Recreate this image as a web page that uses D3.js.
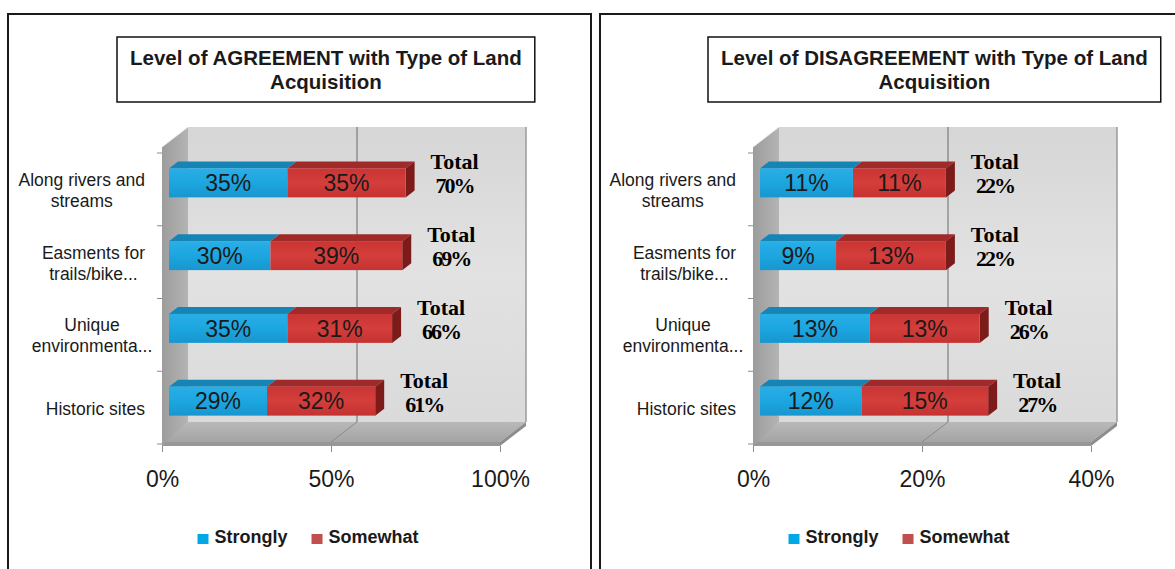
<!DOCTYPE html>
<html>
<head>
<meta charset="utf-8">
<script src="https://cdn.jsdelivr.net/npm/d3@7"></script>
<style>
  html, body { margin: 0; padding: 0; background: #fff; }
  svg { display: block; }
  .sans { font-family: "Liberation Sans", Arial, sans-serif; }
  .serif { font-family: "Liberation Serif", "Times New Roman", serif; }
</style>
</head>
<body>
<svg id="chart" width="1175" height="569"></svg>
<script>
// ---- data ----
const categoryLines = [
  ["Along rivers and", "streams"],
  ["Easments for", "trails/bike..."],
  ["Unique", "environmenta..."],
  ["Historic sites"]
];
const seriesNames = ["Strongly", "Somewhat"];

const agreeTitle = ["Level of AGREEMENT with Type of Land", "Acquisition"];
const agreeStrongly = [35, 30, 35, 29];
const agreeSomewhat = [35, 39, 31, 32];
const agreeTotal = [70, 69, 66, 61];
const agreeTicks = [0, 50, 100];

const disagreeTitle = ["Level of DISAGREEMENT with Type of Land", "Acquisition"];
const disagreeStrongly = [11, 9, 13, 12];
const disagreeSomewhat = [11, 13, 13, 15];
const disagreeTotal = [22, 22, 26, 27];
const disagreeTicks = [0, 20, 40];

// ---- style ----
const C = {
  blue: "#1ba3dd", blueTop: "#1784b6", blueLegend: "#00a8e8",
  red: "#d13a38", redTop: "#a02a29", redEnd: "#7d1b1b", redLegend: "#c0504d",
  text: "#1a1a1a"
};

const svg = d3.select("#chart");
const defs = svg.append("defs");

function vGrad(id, stops) {
  const g = defs.append("linearGradient").attr("id", id)
    .attr("x1", 0).attr("y1", 0).attr("x2", 0).attr("y2", 1);
  stops.forEach(([o, c]) => g.append("stop").attr("offset", o).attr("stop-color", c));
}
function hGrad(id, stops) {
  const g = defs.append("linearGradient").attr("id", id)
    .attr("x1", 0).attr("y1", 0).attr("x2", 1).attr("y2", 0);
  stops.forEach(([o, c]) => g.append("stop").attr("offset", o).attr("stop-color", c));
}
vGrad("wallGrad", [[0, "#d6d6d6"], [0.5, "#e2e2e2"], [1, "#dadada"]]);
hGrad("sideGrad", [[0, "#9c9c9c"], [1, "#b4b4b4"]]);
vGrad("floorGrad", [[0, "#b9b9b9"], [1, "#a4a4a4"]]);
vGrad("blueGrad", [[0, "#2aaee6"], [0.5, "#1ca6e0"], [1, "#1896cf"]]);
vGrad("redGrad", [[0, "#c93534"], [0.5, "#d43e3b"], [1, "#c43231"]]);

// panel frames
svg.append("rect").attr("x", 8).attr("y", 14).attr("width", 583).attr("height", 600)
  .attr("fill", "none").attr("stroke", "#1a1a1a").attr("stroke-width", 2);
svg.append("rect").attr("x", 600).attr("y", 14).attr("width", 600).attr("height", 600)
  .attr("fill", "none").attr("stroke", "#1a1a1a").attr("stroke-width", 2);

const depth = { x: 26, y: -20 };      // wall depth
const barOff = { x: 7, y: -6.5 };     // bar front face offset inside the box
const barDepth = { x: 9, y: -7 };     // bar thickness into the page
const barH = 29;

function drawPanel(cfg) {
  const g = svg.append("g");
  const x0 = cfg.axisX;
  const x = d3.scaleLinear().domain([0, cfg.ticks[cfg.ticks.length - 1]]).range([x0, x0 + 338]);
  const y = d3.scaleBand().domain(d3.range(categoryLines.length)).range([153, 444]);
  const floorY = 442, wallTop = 147;
  const bx0 = x0 + depth.x, bx1 = x(cfg.ticks[cfg.ticks.length - 1]) + depth.x;
  const bTop = wallTop + depth.y, bBot = floorY + depth.y;

  // title
  const title = g.append("g");
  const tBox = title.append("rect").attr("fill", "#fff").attr("stroke", "#111").attr("stroke-width", 1.5);
  const tText = title.selectAll("text").data(cfg.title).join("text")
    .attr("class", "sans").attr("font-size", 20.5).attr("font-weight", "bold")
    .attr("fill", C.text).attr("text-anchor", "middle")
    .attr("y", (d, i) => 65 + i * 24).text(d => d);
  const tw = d3.max(tText.nodes(), n => n.getComputedTextLength());
  const boxX = x0 - 45, boxW = tw + 26;
  tBox.attr("x", boxX).attr("y", 37).attr("width", boxW).attr("height", 65);
  tText.attr("x", boxX + boxW / 2);

  // back wall
  g.append("rect").attr("x", bx0).attr("y", bTop).attr("width", bx1 - bx0).attr("height", bBot - bTop)
    .attr("fill", "url(#wallGrad)");
  g.append("line").attr("x1", bx1).attr("x2", bx1).attr("y1", bTop).attr("y2", bBot)
    .attr("stroke", "#9a9a9a").attr("stroke-width", 1.5);

  // floor
  const xMax = x.domain()[1];
  g.append("polygon")
    .attr("points", [[x0, floorY], [x(xMax), floorY], [x(xMax) + depth.x, bBot], [bx0, bBot]].join(" "))
    .attr("fill", "url(#floorGrad)");
  g.append("rect").attr("x", x0).attr("y", floorY).attr("width", 338).attr("height", 4).attr("fill", "#979797");
  g.append("polygon")
    .attr("points", [[x(xMax), floorY], [x(xMax) + depth.x, bBot], [x(xMax) + depth.x, bBot + 4], [x(xMax), floorY + 4]].join(" "))
    .attr("fill", "#8d8d8d");

  // gridlines on back wall and floor
  cfg.ticks.slice(1, -1).forEach(t => {
    g.append("line").attr("x1", x(t) + depth.x).attr("x2", x(t) + depth.x)
      .attr("y1", bTop).attr("y2", bBot).attr("stroke", "#6a6a6a").attr("stroke-width", 1);
    g.append("line").attr("x1", x(t) + depth.x).attr("y1", bBot)
      .attr("x2", x(t)).attr("y2", floorY).attr("stroke", "#8a8a8a").attr("stroke-width", 1);
  });

  // side wall
  g.append("polygon")
    .attr("points", [[x0, wallTop], [bx0, bTop], [bx0, bBot], [x0, floorY + 4]].join(" "))
    .attr("fill", "url(#sideGrad)");
  g.append("line").attr("x1", x0).attr("y1", wallTop).attr("x2", bx0).attr("y2", bTop)
    .attr("stroke", "#eeeeee").attr("stroke-width", 1);

  // category tick marks at band edges
  const edges = y.domain().map(i => y(i)).concat([y.range()[1]]);
  g.selectAll(".ctick").data(edges).join("line")
    .attr("x1", x0 - 5).attr("x2", x0).attr("y1", d => d).attr("y2", d => d)
    .attr("stroke", "#8c8c8c").attr("stroke-width", 1);

  // value axis
  const axis = d3.axisBottom(x).tickValues(cfg.ticks).tickFormat(d => d + "%")
    .tickSize(6).tickPadding(19);
  const ax = g.append("g").attr("transform", `translate(0,${floorY + 4})`).call(axis);
  ax.select(".domain").remove();
  ax.selectAll(".tick line").attr("stroke", "#8c8c8c");
  ax.selectAll(".tick text").attr("class", "sans").attr("font-size", 23).attr("fill", C.text);

  // bars
  const stacks = cfg.strongly.map((s, i) => [
    { key: 0, a: 0, b: s, i },
    { key: 1, a: s, b: s + cfg.somewhat[i], i }
  ]);
  stacks.forEach(segs => {
    segs.forEach(seg => {
      const c = y(seg.i) + y.bandwidth() / 2;
      const top = c + barOff.y - barH / 2, bot = top + barH;
      const xa = x(seg.a) + barOff.x, xb = x(seg.b) + barOff.x;
      g.append("polygon")
        .attr("points", [[xa, top], [xb, top], [xb + barDepth.x, top + barDepth.y], [xa + barDepth.x, top + barDepth.y]].join(" "))
        .attr("fill", seg.key === 0 ? C.blueTop : C.redTop);
      if (seg.key === 1) {
        g.append("polygon")
          .attr("points", [[xb, top], [xb + barDepth.x, top + barDepth.y], [xb + barDepth.x, bot + barDepth.y], [xb, bot]].join(" "))
          .attr("fill", C.redEnd);
      }
      g.append("rect").attr("x", xa).attr("y", top).attr("width", xb - xa).attr("height", barH)
        .attr("fill", seg.key === 0 ? "url(#blueGrad)" : "url(#redGrad)");
      g.append("text").attr("class", "sans").attr("font-size", 23).attr("fill", C.text)
        .attr("text-anchor", "middle").attr("x", (xa + xb) / 2).attr("y", c + barOff.y + 8.2)
        .text(seg.b - seg.a + "%");
    });
  });

  // totals
  cfg.totals.forEach((t, i) => {
    const c = y(i) + y.bandwidth() / 2;
    const tx = x(t) + 56;
    const tg = g.append("g").attr("class", "serif").attr("font-weight", "bold")
      .attr("font-size", 22).attr("fill", "#000").attr("text-anchor", "middle");
    tg.append("text").attr("x", tx).attr("y", c - 20).text("Total");
    tg.append("text").attr("x", tx).attr("y", c + 4).attr("letter-spacing", -2).text(t + "%");
  });

  // category labels
  categoryLines.forEach((lines, i) => {
    const c = y(i) + y.bandwidth() / 2;
    const lg = g.append("g").attr("class", "sans").attr("font-size", 17.5).attr("fill", C.text)
      .attr("text-anchor", "middle");
    const texts = lines.map((ln, k) => lg.append("text")
      .attr("y", c + 7 - (lines.length - 1) * 10.5 + k * 21).text(ln));
    const widths = texts.map((t, k) => {
      let w = t.node().getComputedTextLength();
      if (lines[k].endsWith("...")) {
        const probe = lg.append("text").text("...");
        w -= probe.node().getComputedTextLength();
        probe.remove();
      }
      return w;
    });
    const blockW = d3.max(widths);
    const cx = x0 - 17 - blockW / 2;
    texts.forEach(t => t.attr("x", cx));
  });

  // legend
  const leg = g.append("g").attr("class", "sans").attr("font-size", 18).attr("font-weight", "bold").attr("fill", C.text);
  let lx = x0 + 35.5;
  seriesNames.forEach((name, k) => {
    leg.append("rect").attr("x", lx).attr("y", 534).attr("width", 11).attr("height", 10)
      .attr("fill", k === 0 ? C.blueLegend : C.redLegend);
    const t = leg.append("text").attr("x", lx + 17).attr("y", 542.5).text(name);
    lx += 17 + t.node().getComputedTextLength() + 24;
  });
}

drawPanel({ axisX: 162, title: agreeTitle, strongly: agreeStrongly, somewhat: agreeSomewhat, totals: agreeTotal, ticks: agreeTicks });
drawPanel({ axisX: 753, title: disagreeTitle, strongly: disagreeStrongly, somewhat: disagreeSomewhat, totals: disagreeTotal, ticks: disagreeTicks });
</script>
</body>
</html>
